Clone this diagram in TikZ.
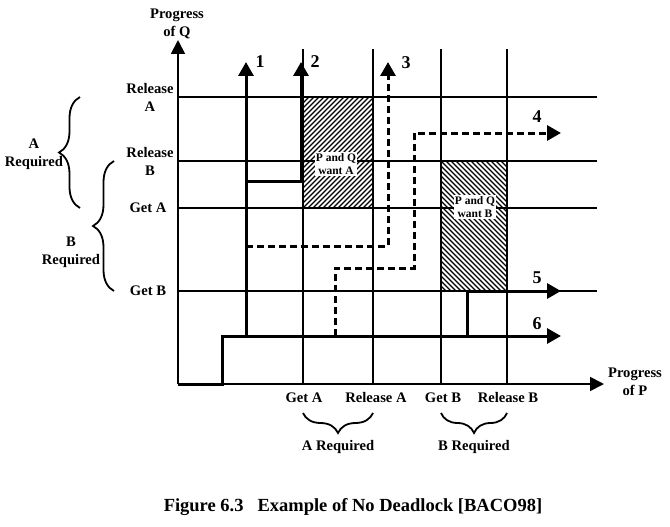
\documentclass[tikz,border=0pt]{standalone}
\usepackage{fontspec}
\setmainfont{Liberation Serif}
\usetikzlibrary{arrows.meta,decorations.pathreplacing}
\tikzset{
  gridline/.style={line width=1.2pt},
  axisline/.style={line width=1.8pt,-{Triangle[length=14pt,width=14pt]}},
  track/.style={line width=3pt,-{Triangle[length=14pt,width=15pt]}},
  dtrack/.style={track,dash pattern=on 7pt off 4pt},
  lbl/.style={font=\fontsize{14.6}{18}\selectfont\bfseries,align=center,inner sep=0pt},
  numlbl/.style={font=\fontsize{18}{20}\selectfont\bfseries,inner sep=0pt},
  wantlbl/.style={font=\fontsize{11.5}{13}\selectfont\bfseries,align=center,fill=white,inner sep=1pt},
  hatch/.style={line width=1.1pt},
  brc/.style={decorate,decoration={brace,amplitude=#1},line width=1.8pt},
}
\begin{document}
\begin{tikzpicture}[x=1pt,y=-1pt]
\useasboundingbox (0,0) rectangle (670,527);
% hatched regions
\begin{scope}
  \clip (303,97) rectangle (373,208);
  \foreach \i in {-120,-115,...,75} \draw[hatch] (303+\i,208) -- ++(112,-112);
\end{scope}
\begin{scope}
  \clip (441,161) rectangle (507,291);
  \foreach \i in {-135,-130,...,70} \draw[hatch] (441+\i,161) -- ++(131,131);
\end{scope}
% grid
\foreach \x in {303,373,441,507} \draw[gridline] (\x,49) -- (\x,384);
\foreach \y in {97,161,208,291} \draw[gridline] (178,\y) -- (597,\y);
% axes
\coordinate (O) at (178,384);
\coordinate (Qtip) at (178,40);
\coordinate (Ptip) at (604,384);
\draw[axisline] (O) -- (Qtip);
\draw[axisline] (O) -- (Ptip);
% coordinates of tracks
\coordinate (t6a) at (222,384);
\coordinate (t6b) at (222,336);
\coordinate (t6e) at (561,336);
\coordinate (t1s) at (246,336);
\coordinate (t1e) at (246,62);
\coordinate (t2s) at (246,181);
\coordinate (t2b) at (301,181);
\coordinate (t2e) at (301,62);
\coordinate (t3s) at (246,246);
\coordinate (t3b) at (388,246);
\coordinate (t3e) at (388,62);
\coordinate (t4s) at (335,336);
\coordinate (t4b) at (335,268);
\coordinate (t4c) at (414,268);
\coordinate (t4d) at (414,133);
\coordinate (t4e) at (561,133);
\coordinate (t5s) at (467,336);
\coordinate (t5b) at (467,291);
\coordinate (t5e) at (561,291);
% tracks
\draw[track] (O) -- (t6a) -- (t6b) -- (t6e);
\draw[track] (t1s) -- (t1e);
\draw[track] (t2s) -- (t2b) -- (t2e);
\draw[dtrack] (t3s) -- (t3b) -- (t3e);
\draw[dtrack] (t4s) -- (t4b) -- (t4c) -- (t4d) -- (t4e);
\draw[track] (t5s) -- (t5b) -- (t5e);
% numbers
\node[numlbl] (n1) at (260,62) {1};
\node[numlbl] (n2) at (315,62) {2};
\node[numlbl] (n3) at (406,63) {3};
\node[numlbl] (n4) at (537,117) {4};
\node[numlbl] (n5) at (537,278) {5};
\node[numlbl] (n6) at (537,324) {6};
% region labels
\node[wantlbl] (wa) at (336,164) {P and Q\\want A};
\node[wantlbl] (wb) at (475,207) {P and Q\\want B};
% axis labels
\node[lbl] (pq) at (177,24) {Progress\\of Q};
\node[lbl] (pp) at (635,382) {Progress\\of P};
\node[lbl] (ra) at (150,97) {Release\\A};
\node[lbl] (rb) at (150,161) {Release\\B};
\node[lbl] (ga) at (148,208) {Get A};
\node[lbl] (gb) at (148,291) {Get B};
\node[lbl] (bga) at (304,398) {Get A};
\node[lbl] (bra) at (376,398) {Release A};
\node[lbl] (bgb) at (443,398) {Get B};
\node[lbl] (brb) at (508,398) {Release B};
% braces
\coordinate (ba1) at (80,208);
\coordinate (ba2) at (80,97);
\draw[brc=21pt] (ba1) -- (ba2);
\node[lbl] (areq) at (34,154) {A\\Required};
\coordinate (bb1) at (114,291);
\coordinate (bb2) at (114,161);
\draw[brc=21pt] (bb1) -- (bb2);
\node[lbl] (breq) at (71,252) {B\\Required};
\coordinate (bx1) at (373,413);
\coordinate (bx2) at (303,413);
\draw[brc=20pt] (bx1) -- (bx2);
\node[lbl] (areqb) at (338,447) {A Required};
\coordinate (by1) at (507,413);
\coordinate (by2) at (441,413);
\draw[brc=20pt] (by1) -- (by2);
\node[lbl] (breqb) at (474,447) {B Required};
% caption
\node[font=\fontsize{18.5}{20}\selectfont\bfseries,inner sep=0pt] (cap) at (353,507) {Figure 6.3\hspace{14pt}Example of No Deadlock [BACO98]};
\end{tikzpicture}
\end{document}
